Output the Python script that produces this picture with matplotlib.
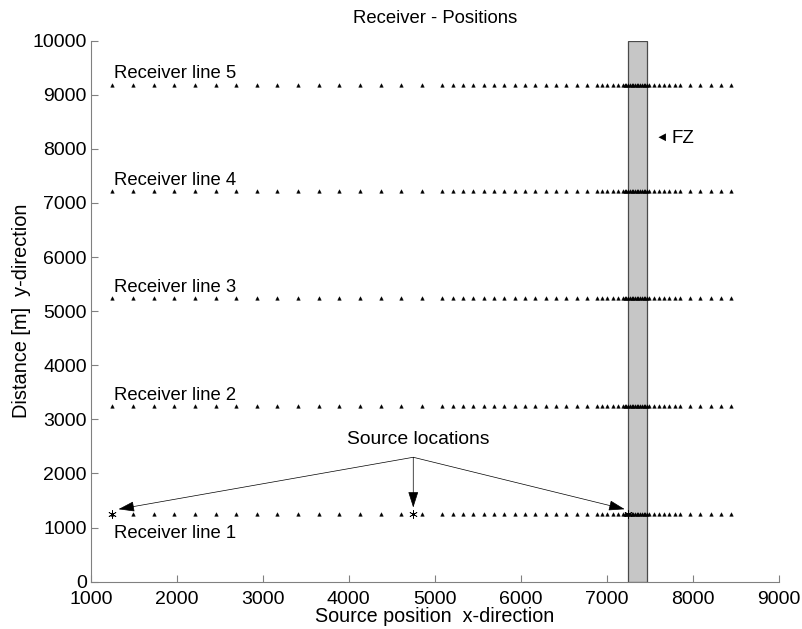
import matplotlib
matplotlib.use("Agg")
import matplotlib.pyplot as plt
from matplotlib.patches import Rectangle

plt.rcParams['font.family'] = ['Liberation Sans', 'DejaVu Sans']

# Receiver x positions (m)
receiver_x = [1250, 1490, 1730, 1970, 2210, 2450, 2690, 2930, 3170, 3410, 3650,
              3890, 4130, 4370, 4610, 4850, 5090,
              5210, 5330, 5450, 5570, 5690, 5810, 5930, 6050, 6170, 6290, 6410,
              6530, 6650, 6770, 6890,
              6950, 7010, 7070, 7130,
              7190, 7210, 7230, 7250, 7270, 7290, 7310, 7330, 7350, 7370, 7390,
              7410, 7430, 7450, 7470, 7490,
              7550, 7610, 7670, 7730, 7790, 7850,
              7970, 8090, 8210, 8330, 8450]
# Receiver line y positions (m)
line_y = [1260, 3250, 5240, 7220, 9180]
line_labels = ["Receiver line 1", "Receiver line 2", "Receiver line 3",
               "Receiver line 4", "Receiver line 5"]
label_y = [900, 3450, 5430, 7425, 9385]

# Source locations
source_x = [1250, 4750, 7250]
source_y = [1260, 1260, 1260]
source_label_xy = (4750, 2300)
arrow_tips = [(1320, 1340), (4750, 1370), (7210, 1340)]

# Fault zone
fz_x0, fz_x1 = 7250, 7475
fz_y0, fz_y1 = 0, 10000

fig = plt.figure(figsize=(8.03, 6.29), dpi=100)
ax = fig.add_axes([0.1133, 0.0752, 0.8562, 0.8601])

ax.add_patch(Rectangle((fz_x0, fz_y0), fz_x1 - fz_x0, fz_y1 - fz_y0,
                       facecolor='#c6c6c6', edgecolor='#4a4a4a', linewidth=0.9,
                       zorder=1))

for y in line_y:
    ax.plot(receiver_x, [y] * len(receiver_x), linestyle='none', marker='^',
            markersize=2.6, color='black', markeredgewidth=0.3, zorder=3)

for lbl, ly in zip(line_labels, label_y):
    ax.text(1270, ly, lbl, fontsize=13.3, ha='left', va='center', zorder=4)

ax.plot(source_x, source_y, linestyle='none', marker=(6, 2, 0), markersize=6,
        color='black', markeredgewidth=0.5, zorder=5)

for tip in arrow_tips:
    ax.annotate('', xy=tip, xytext=source_label_xy,
                arrowprops=dict(arrowstyle='-|>,head_length=1.0,head_width=0.32',
                                color='black', lw=0.5, shrinkA=0, shrinkB=0),
                zorder=6)
ax.text(4810, 2630, 'Source locations', fontsize=13.9, ha='center', va='center')

ax.text(7570, 8200, '\u25c4', fontsize=9, ha='left', va='center')
ax.text(7760, 8200, 'FZ', fontsize=13.5, ha='left', va='center')

ax.set_xlim(1000, 9000)
ax.set_ylim(0, 10000)
ax.set_xticks([1000, 2000, 3000, 4000, 5000, 6000, 7000, 8000, 9000])
ax.set_yticks([0, 1000, 2000, 3000, 4000, 5000, 6000, 7000, 8000, 9000, 10000])
ax.tick_params(direction='in', length=5, color='#808080', labelsize=14)
ax.tick_params(axis='x', pad=7)
ax.tick_params(axis='y', pad=3)

for s in ['top', 'right']:
    ax.spines[s].set_visible(False)
for s in ['left', 'bottom']:
    ax.spines[s].set_color('#808080')

ax.set_title('Receiver - Positions', fontsize=13.3, pad=13)
ax.set_xlabel('Source position  x-direction', fontsize=14.2, labelpad=-1)
ax.set_ylabel('Distance [m]  y-direction', fontsize=14.4, labelpad=1)

fig.savefig('out.png', dpi=100)
